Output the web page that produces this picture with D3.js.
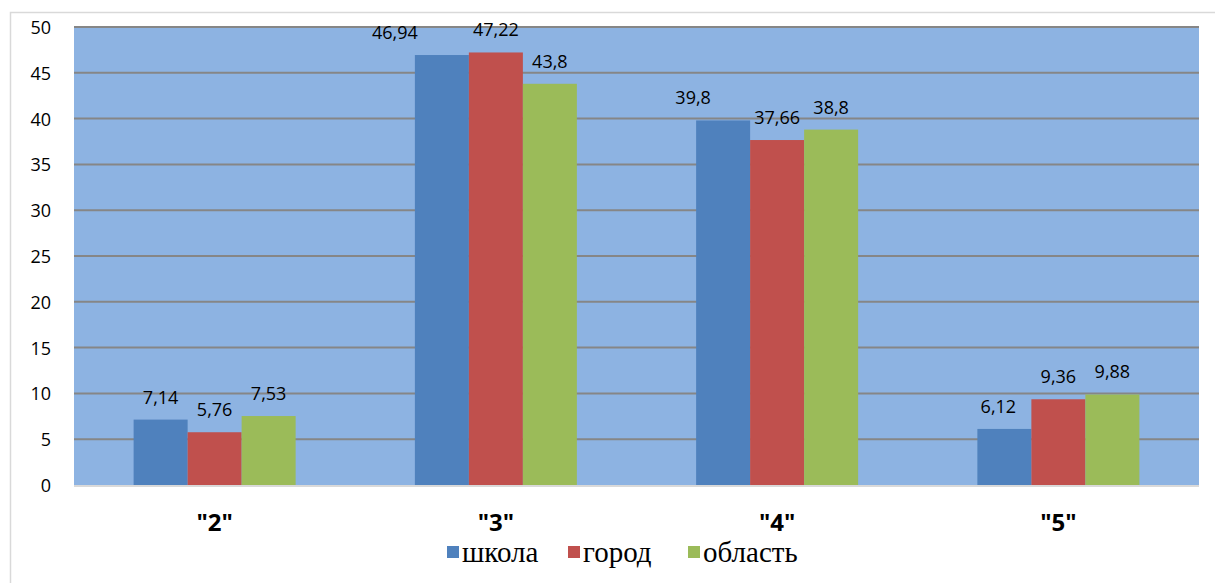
<!DOCTYPE html>
<meta charset="utf-8">
<html>
<head>
<style>
body { margin: 0; background: #fff; }
svg { display: block; }
</style>
</head>
<body>
<svg id="chart" width="1215" height="583"></svg>
<script src="https://cdnjs.cloudflare.com/ajax/libs/d3/7.8.5/d3.min.js"></script>
<script>
// grades and the three series
var categories = ['"2"', '"3"', '"4"', '"5"']
var seriesNames = ["школа", "город", "область"]
var shkola = [7.14, 46.94, 39.8, 6.12]
var gorod = [5.76, 47.22, 37.66, 9.36]
var oblast = [7.53, 43.8, 38.8, 9.88]
var yTicks = [0, 5, 10, 15, 20, 25, 30, 35, 40, 45, 50]
var colors = ["#4f81bd", "#c0504d", "#9bbb59"]

var values = [shkola, gorod, oblast]
var svg = d3.select("#chart")
var font = "'Open Sans', sans-serif"

// outer frame
svg.append("rect")
  .attr("x", 10.5).attr("y", 12.5)
  .attr("width", 1215).attr("height", 600)
  .attr("fill", "none").attr("stroke", "#d9d9d9").attr("stroke-width", 1.5)

var plotL = 74, plotR = 1199, plotT = 27, plotB = 485

var x = d3.scaleBand().domain(categories).range([plotL, plotR])
var xs = d3.scaleBand().domain(seriesNames).range([0, 162])
var y = d3.scaleLinear().domain([0, 50]).range([plotB, plotT])

// plot background
svg.append("rect")
  .attr("x", plotL).attr("y", plotT)
  .attr("width", plotR - plotL).attr("height", plotB - plotT)
  .attr("fill", "#8db3e2")

// gridlines
svg.selectAll("line.grid")
  .data(yTicks.filter(function(d) { return d > 0 }))
  .enter().append("line")
  .attr("x1", plotL).attr("x2", plotR)
  .attr("y1", function(d) { return y(d) }).attr("y2", function(d) { return y(d) })
  .attr("stroke", "#868686").attr("stroke-width", 2)

// baseline
svg.append("line")
  .attr("x1", plotL).attr("x2", plotR)
  .attr("y1", plotB + 1).attr("y2", plotB + 1)
  .attr("stroke", "#d9d9d9").attr("stroke-width", 2)

// y tick labels
svg.selectAll("text.ytick")
  .data(yTicks)
  .enter().append("text")
  .attr("x", 51).attr("y", function(d) { return y(d) + 7 })
  .attr("text-anchor", "end")
  .attr("font-family", font)
  .attr("font-size", 18).attr("fill", "#000")
  .text(function(d) { return d })

// bars
var bars = []
categories.forEach(function(c, i) {
  seriesNames.forEach(function(s, j) {
    bars.push({cat: c, ser: s, j: j, v: values[j][i]})
  })
})

var groupOffset = (x.bandwidth() - 162) / 2

svg.selectAll("rect.bar")
  .data(bars)
  .enter().append("rect")
  .attr("x", function(d) { return x(d.cat) + groupOffset + xs(d.ser) })
  .attr("y", function(d) { return y(d.v) })
  .attr("width", xs.bandwidth())
  .attr("height", function(d) { return plotB - y(d.v) })
  .attr("fill", function(d) { return colors[d.j] })

// Excel nudges some labels sideways so they don't collide
var nudge = {"46.94": -47, "39.8": -30, "6.12": -6}

svg.selectAll("text.val")
  .data(bars)
  .enter().append("text")
  .attr("x", function(d) {
    return x(d.cat) + groupOffset + xs(d.ser) + xs.bandwidth() / 2 + (nudge[d.v] || 0)
  })
  .attr("y", function(d) { return y(d.v) - 16 })
  .attr("text-anchor", "middle")
  .attr("font-family", font)
  .attr("font-size", 18).attr("fill", "#000")
  .text(function(d) { return String(d.v).replace(".", ",") })

// category labels
svg.selectAll("text.cat")
  .data(categories)
  .enter().append("text")
  .attr("x", function(d) { return x(d) + x.bandwidth() / 2 })
  .attr("y", 531)
  .attr("text-anchor", "middle")
  .attr("font-family", font)
  .attr("font-weight", "bold")
  .attr("font-size", 24).attr("fill", "#000")
  .text(function(d) { return d })

// legend
var legendX = [447, 568, 688]
var lg = svg.selectAll("g.legend")
  .data(seriesNames)
  .enter().append("g")
  .attr("transform", function(d, i) { return "translate(" + legendX[i] + ",546)" })
lg.append("rect")
  .attr("width", 12).attr("height", 12)
  .attr("fill", function(d, i) { return colors[i] })
lg.append("text")
  .attr("x", 15).attr("y", 16)
  .attr("font-family", "'Liberation Serif', 'Times New Roman', serif")
  .attr("font-size", 29).attr("fill", "#000")
  .text(function(d) { return d })
</script>
</body>
</html>
